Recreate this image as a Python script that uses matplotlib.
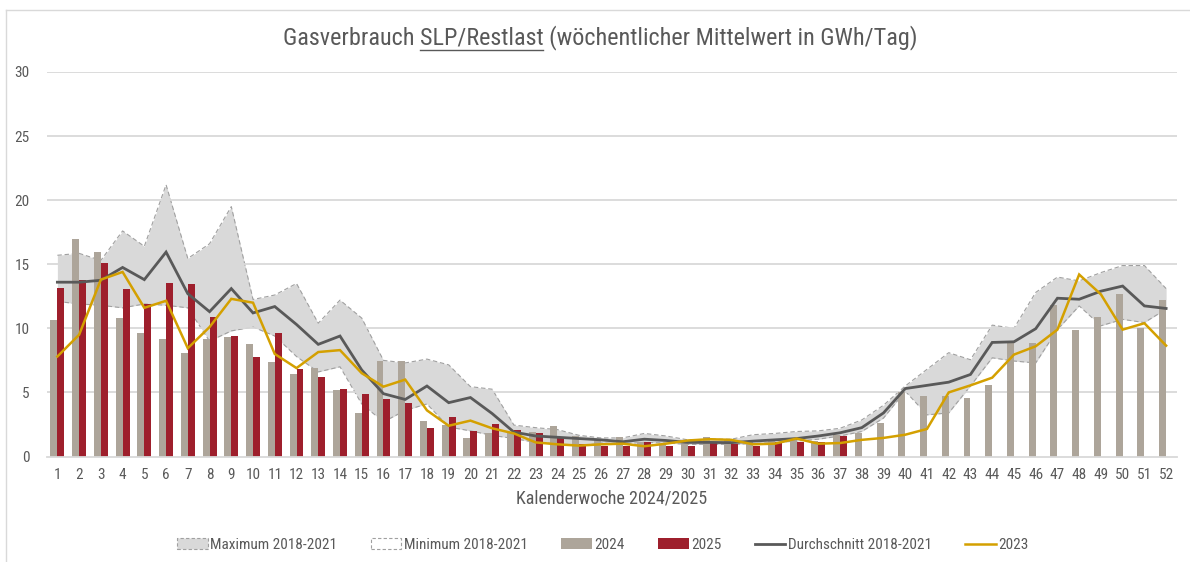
import numpy as np
import matplotlib
matplotlib.use("Agg")
import matplotlib.pyplot as plt
from matplotlib.font_manager import fontManager
from matplotlib.patches import Patch
from matplotlib.lines import Line2D

weeks = list(range(1, 53))

y2024 = [10.65, 17.0, 15.95, 10.8, 9.6, 9.2, 8.1, 9.2, 9.3, 8.8, 7.4, 6.4, 6.9, 5.2, 3.4,
         7.45, 7.45, 2.75, 2.45, 1.45, 1.85, 1.95, 1.9, 2.35, 1.6, 1.4, 1.55, 1.1, 1.0, 1.1,
         1.5, 1.3, 1.2, 1.2, 1.25, 1.2, 1.7, 1.85, 2.65, 5.0, 4.75, 4.75, 4.55, 5.6, 9.0,
         8.85, 11.8, 9.85, 10.9, 12.65, 10.05, 12.2]

y2025 = [13.13, 13.8, 15.1, 13.1, 11.9, 13.5, 13.45, 10.9, 9.4, 7.8, 9.6, 6.8, 6.2, 5.3, 4.9,
         4.45, 4.2, 2.2, 3.05, 2.0, 2.55, 2.1, 1.8, 1.55, 1.0, 0.85, 0.85, 1.13, 0.85, 0.85,
         1.15, 1.0, 0.85, 1.1, 1.1, 1.1, 1.6]

avg1821 = [13.6, 13.6, 13.75, 14.75, 13.8, 15.95, 12.7, 11.3, 13.1, 11.2, 11.7, 10.3, 8.75, 9.4,
           6.75, 4.9, 4.45, 5.5, 4.2, 4.6, 3.35, 1.9, 1.6, 1.5, 1.4, 1.3, 1.15, 1.35, 1.25, 1.1,
           1.1, 1.08, 1.2, 1.3, 1.4, 1.6, 1.85, 2.25, 3.4, 5.3, 5.55, 5.8, 6.4, 8.9, 8.95, 9.97,
           12.35, 12.27, 12.9, 13.3, 11.75, 11.55]

y2023 = [7.8, 9.5, 13.8, 14.4, 11.6, 12.15, 8.45, 10.1, 12.3, 12.0, 8.0, 6.9, 8.15, 8.3, 6.5,
         5.45, 6.0, 3.6, 2.4, 2.8, 2.2, 1.8, 1.1, 0.95, 0.85, 0.95, 1.0, 0.8, 1.0, 1.25, 1.35,
         1.3, 0.95, 1.0, 1.4, 1.0, 1.05, 1.3, 1.45, 1.7, 2.15, 5.0, 5.55, 6.15, 7.95, 8.6, 9.9,
         14.2, 12.65, 9.9, 10.4, 8.65]

max1821 = [15.7, 15.85, 15.3, 17.6, 16.4, 21.2, 15.45, 16.6, 19.5, 12.25, 12.6, 13.5, 10.4, 12.2,
           10.8, 7.5, 7.3, 7.6, 7.15, 5.45, 5.25, 2.45, 2.25, 2.1, 1.65, 1.45, 1.45, 1.8, 1.6,
           1.3, 1.35, 1.35, 1.7, 1.8, 1.95, 2.0, 2.2, 2.85, 4.0, 5.5, 6.8, 8.1, 7.55, 10.25, 10.0,
           12.8, 14.0, 13.7, 14.35, 14.9, 14.9, 13.1]

min1821 = [12.1, 11.9, 11.8, 11.6, 11.9, 11.8, 11.6, 9.0, 9.8, 10.1, 9.4, 7.8, 6.6, 7.0, 4.1,
           2.7, 3.6, 4.1, 2.3, 2.0, 1.65, 1.4, 1.1, 1.0, 0.8, 1.05, 1.0, 1.1, 1.05, 0.95, 0.95,
           0.95, 1.0, 1.1, 1.2, 1.35, 1.6, 1.95, 3.0, 5.1, 3.25, 3.4, 5.5, 7.7, 7.45, 7.3, 9.9,
           11.75, 10.2, 10.7, 10.45, 11.5]

yticks = [0, 5, 10, 15, 20, 25, 30]
title_pre = "Gasverbrauch "
title_mid = "SLP/Restlast"
title_post = " (wöchentlicher Mittelwert in GWh/Tag)"
xlabel = "Kalenderwoche 2024/2025"
legend_labels = ["Maximum 2018-2021", "Minimum 2018-2021", "2024", "2025",
                 "Durchschnitt 2018-2021", "2023"]

avail = {f.name for f in fontManager.ttflist}
fam = [f for f in ["Liberation Sans Narrow", "Roboto Condensed", "Open Sans", "Liberation Sans"] if f in avail]
plt.rcParams["font.family"] = fam + ["DejaVu Sans"]

TXT = "#595959"
C24 = "#ADA59A"
C25 = "#9E1F2C"
CAVG = "#595959"
C23 = "#D4A000"
BAND = "#D9D9D9"
GRID = "#D9D9D9"

W, H = 1190, 562
fig = plt.figure(figsize=(W / 100, H / 100), dpi=100)
ax = fig.add_axes([46.5 / W, 1 - 456.5 / H, (1177 - 46.5) / W, (456.5 - 72) / H])

x = np.array(weeks, dtype=float)
ax.fill_between(x, min1821, max1821, color=BAND, lw=0, zorder=1)
ax.plot(x, max1821, color="#A0A0A0", lw=0.8, ls=(0, (4, 2.5)), zorder=1.2)
ax.plot(x, min1821, color="#A0A0A0", lw=0.8, ls=(0, (4, 2.5)), zorder=1.2)

for v in yticks[1:]:
    ax.axhline(v, color=GRID, lw=1.3, zorder=1.5)

bw = 0.32
ax.bar(x - bw / 2, y2024, width=bw, color=C24, zorder=2)
x25 = np.array(weeks[:len(y2025)], dtype=float)
ax.bar(x25 + bw / 2, y2025, width=bw, color=C25, zorder=2)

ax.plot(x, avg1821, color=CAVG, lw=2.0, zorder=3, solid_joinstyle="miter")
ax.plot(x, y2023, color=C23, lw=1.8, zorder=3.1, solid_joinstyle="miter")

ax.set_xlim(0.5, 52.5)
ax.set_ylim(0, 30)
ax.set_xticks(weeks)
ax.set_xticklabels([str(w) for w in weeks])
ax.set_yticks(yticks)
ax.tick_params(axis="both", length=0, labelsize=11, labelcolor=TXT)
ax.tick_params(axis="x", pad=8)
ax.tick_params(axis="y", pad=12)
for s in ["left", "right", "top"]:
    ax.spines[s].set_visible(False)
ax.spines["bottom"].set_color(GRID)
ax.spines["bottom"].set_linewidth(1.3)
ax.spines["bottom"].set_zorder(4)
ax.set_facecolor("none")
ax.set_xlabel(xlabel, fontsize=13, color=TXT, labelpad=6)

# Title with underlined part
fig.canvas.draw()
r = fig.canvas.get_renderer()
tsize = 17.4
full = title_pre + title_mid + title_post
ty = 1 - 38 / H
tmp = fig.text(0, 0, full, fontsize=tsize)
w_full = tmp.get_window_extent(r).width
tmp.set_text(title_pre + title_mid)
w_pm = tmp.get_window_extent(r).width
tmp.set_text(title_mid)
w_m = tmp.get_window_extent(r).width
tmp.remove()
cx = 600
x0 = cx - w_full / 2
fig.text(x0 / W, ty, full, fontsize=tsize, color=TXT, ha="left", va="center")
ux1 = x0 + w_pm - w_m
ux2 = x0 + w_pm
uy = 1 - 50 / H
fig.add_artist(Line2D([ux1 / W, ux2 / W], [uy, uy], color=TXT, lw=1.0, transform=fig.transFigure))

# Legend
handles = [
    Patch(facecolor=BAND, edgecolor="#A0A0A0", linestyle=(0, (3, 2)), lw=0.8),
    Patch(facecolor="white", edgecolor="#A0A0A0", linestyle=(0, (3, 2)), lw=0.8),
    Patch(facecolor=C24, edgecolor="none"),
    Patch(facecolor=C25, edgecolor="none"),
    Line2D([], [], color=CAVG, lw=2.0),
    Line2D([], [], color=C23, lw=1.8),
]
fig.legend(handles, legend_labels, loc="center", bbox_to_anchor=(603 / W, 1 - 545 / H),
           ncol=6, frameon=False, fontsize=11, labelcolor=TXT, handlelength=2.0,
           handleheight=0.7, handletextpad=0.15, columnspacing=2.2)

# chart border
fig.add_artist(Line2D([6 / W, 6 / W], [0, 1 - 10 / H], color="#D9D9D9", lw=1.0, transform=fig.transFigure))
fig.add_artist(Line2D([6 / W, 1], [1 - 10 / H, 1 - 10 / H], color="#D9D9D9", lw=1.0, transform=fig.transFigure))

fig.savefig("out.png", dpi=100, facecolor="white")
